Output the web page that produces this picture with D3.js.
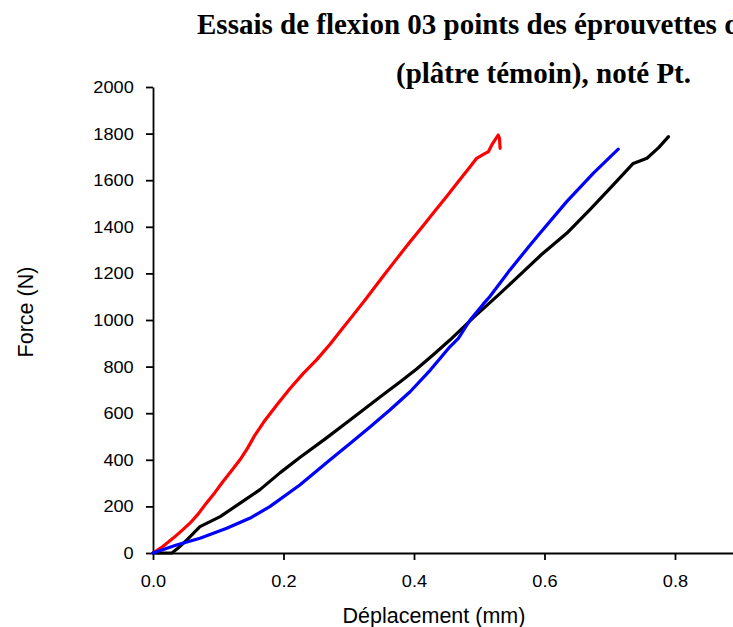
<!DOCTYPE html>
<html>
<head>
<meta charset="utf-8">
<script src="https://cdn.jsdelivr.net/npm/d3@7"></script>
<style>
  html, body { margin: 0; padding: 0; background: #fff; }
  svg { display: block; }
</style>
</head>
<body>
<svg id="chart" width="733" height="627"></svg>
<script>
// Three-point bending tests: displacement (mm) vs force (N)
const redDisp   = [0, 0.015, 0.031, 0.045, 0.057, 0.07, 0.082, 0.095, 0.107, 0.12, 0.133, 0.145, 0.156, 0.172, 0.19, 0.21, 0.23, 0.251, 0.271, 0.29, 0.307, 0.325, 0.343, 0.355, 0.368, 0.39, 0.414, 0.432, 0.45, 0.468, 0.486, 0.496, 0.509, 0.514, 0.52, 0.529, 0.531, 0.532];
const redForce  = [0, 28, 64, 98, 129, 170, 215, 260, 306, 352, 399, 450, 505, 571, 636, 706, 770, 830, 895, 962, 1022, 1086, 1152, 1196, 1243, 1322, 1405, 1468, 1530, 1594, 1658, 1694, 1715, 1722, 1755, 1794, 1780, 1737];

const blueDisp  = [0, 0.036, 0.072, 0.113, 0.149, 0.179, 0.225, 0.271, 0.302, 0.333, 0.363, 0.394, 0.425, 0.455, 0.468, 0.486, 0.506, 0.516, 0.547, 0.578, 0.593, 0.634, 0.675, 0.713];
const blueForce = [0, 34, 63, 106, 150, 199, 292, 399, 470, 542, 614, 692, 785, 885, 921, 1000, 1068, 1100, 1215, 1322, 1372, 1508, 1630, 1733];

const blackDisp  = [0, 0.029, 0.04, 0.052, 0.072, 0.103, 0.133, 0.164, 0.195, 0.225, 0.265, 0.302, 0.353, 0.379, 0.404, 0.43, 0.455, 0.491, 0.532, 0.557, 0.595, 0.634, 0.67, 0.705, 0.736, 0.757, 0.775, 0.79];
const blackForce = [0, 0, 25, 56, 113, 156, 213, 272, 345, 410, 492, 571, 680, 735, 790, 852, 914, 1010, 1114, 1180, 1280, 1372, 1475, 1579, 1672, 1694, 1740, 1787];

const xTicks = [0, 0.2, 0.4, 0.6, 0.8];
const yTicks = [0, 200, 400, 600, 800, 1000, 1200, 1400, 1600, 1800, 2000];

const titleLines = ["Essais de flexion 03 points des éprouvettes de", "(plâtre témoin), noté Pt."];
const xLabel = "Déplacement (mm)";
const yLabel = "Force (N)";

const series = [
  { disp: redDisp,   force: redForce,   color: "#ff0000" },
  { disp: blackDisp, force: blackForce, color: "#000000" },
  { disp: blueDisp,  force: blueForce,  color: "#0000ff" }
];

const svg = d3.select("#chart");
const plotLeft = 153, plotBottom = 553, plotTop = 87;

const x = d3.scaleLinear().domain([0, 0.9]).range([plotLeft, plotLeft + 0.9 * 652.5]);
const y = d3.scaleLinear().domain([0, 2000]).range([plotBottom, plotTop]);

const sansFont = "Liberation Sans, Arial, sans-serif";
const tickStretch = 1.07;   // tick labels are drawn slightly wide

// x axis: major ticks every 0.2, minor every 0.1
const xAxis = svg.append("g").attr("transform", `translate(0,${plotBottom})`);
xAxis.call(d3.axisBottom(x).tickValues(d3.range(0, 0.91, 0.1)).tickFormat("").tickSize(4).tickSizeOuter(0));
xAxis.call(d3.axisBottom(x).tickValues(xTicks).tickFormat(d3.format(".1f")).tickSize(7).tickSizeOuter(0).tickPadding(15));
xAxis.selectAll("path, line").attr("stroke", "#000").attr("stroke-width", 1.8);
xAxis.selectAll("text")
  .attr("font-family", sansFont).attr("font-size", 17).attr("fill", "#000")
  .attr("transform", `scale(${tickStretch},1)`);

// y axis: major ticks every 200, minor every 100
const yAxis = svg.append("g").attr("transform", `translate(${plotLeft},0)`);
yAxis.call(d3.axisLeft(y).tickValues(d3.range(0, 2001, 100)).tickFormat("").tickSize(4).tickSizeOuter(0));
yAxis.call(d3.axisLeft(y).tickValues(yTicks).tickFormat(d3.format("d")).tickSize(7).tickSizeOuter(0).tickPadding(11));
yAxis.selectAll("path, line").attr("stroke", "#000").attr("stroke-width", 1.8);
yAxis.selectAll("text")
  .attr("font-family", sansFont).attr("font-size", 17).attr("fill", "#000")
  .attr("transform", `scale(${tickStretch},1)`);

// curves
const line = d3.line().x(d => x(d[0])).y(d => y(d[1]));
series.forEach(s => {
  svg.append("path")
    .datum(d3.zip(s.disp, s.force))
    .attr("d", line)
    .attr("fill", "none")
    .attr("stroke", s.color)
    .attr("stroke-width", 3.2)
    .attr("stroke-linejoin", "round")
    .attr("stroke-linecap", "round");
});

// axis titles
svg.append("text")
  .attr("x", 434).attr("y", 623)
  .attr("text-anchor", "middle")
  .attr("font-family", sansFont).attr("font-size", 21.5)
  .text(xLabel);

svg.append("text")
  .attr("transform", "translate(33,312) rotate(-90)")
  .attr("text-anchor", "middle")
  .attr("font-family", sansFont).attr("font-size", 21.5)
  .text(yLabel);

// title (first line runs past the right edge)
const titleFont = "Liberation Serif, Times New Roman, serif";
svg.append("text")
  .attr("x", 197).attr("y", 34)
  .attr("font-family", titleFont).attr("font-weight", "bold").attr("font-size", 29)
  .text(titleLines[0]);
svg.append("text")
  .attr("x", 396).attr("y", 83)
  .attr("font-family", titleFont).attr("font-weight", "bold").attr("font-size", 29)
  .text(titleLines[1]);
</script>
</body>
</html>
